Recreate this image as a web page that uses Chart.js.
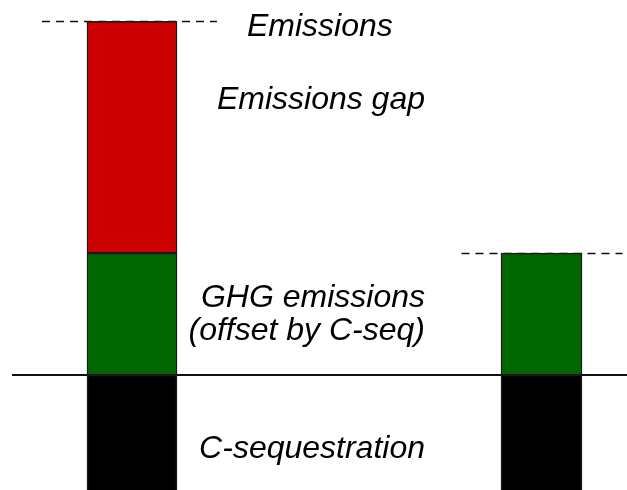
<!DOCTYPE html>
<html>
<head>
<meta charset="utf-8">
<script src="https://cdn.jsdelivr.net/npm/chart.js@4"></script>
<style>
  html, body { margin: 0; padding: 0; background: #fff; }
  #wrap { width: 627px; height: 490px; position: relative; }
</style>
</head>
<body>
<div id="wrap"><canvas id="chartGap"></canvas></div>
<script>
'use strict';

// bars: left = emissions without sequestration counted, right = with it
const categories = ['Emissions', 'Offset'];
const cSequestration = [-4, -4];
const ghgEmissions = [4, 4];
const emissionsGap = [7.6, null];

const labelTexts = {
    emissions: 'Emissions',
    gap: 'Emissions gap',
    ghg1: 'GHG emissions',
    ghg2: '(offset by C-seq)',
    cseq: 'C-sequestration'
};

// keep each bar in its own dataset so the two can have different widths
function onlyAt(arr, i) {
    return arr.map((v, j) => (j === i ? v : null));
}

const barBorder = '#1a1a1a';

const datasets = [
    { label: 'C-sequestration', data: onlyAt(cSequestration, 0), backgroundColor: '#000000', barThickness: 90 },
    { label: 'GHG emissions', data: onlyAt(ghgEmissions, 0), backgroundColor: '#006600', barThickness: 90 },
    { label: 'Emissions gap', data: onlyAt(emissionsGap, 0), backgroundColor: '#cc0000', barThickness: 90 },
    { label: 'C-sequestration', data: onlyAt(cSequestration, 1), backgroundColor: '#000000', barThickness: 81 },
    { label: 'GHG emissions', data: onlyAt(ghgEmissions, 1), backgroundColor: '#006600', barThickness: 81 }
].map(d => Object.assign(d, { borderColor: barBorder, borderWidth: 1.5, borderSkipped: false, clip: false }));

// dashed reference lines + zero line, drawn under the bars
const guideLines = {
    id: 'guideLines',
    beforeDatasetsDraw(chart) {
        const { ctx, scales: { x, y } } = chart;
        ctx.save();
        ctx.strokeStyle = '#111';

        // zero line
        ctx.lineWidth = 2;
        const y0 = Math.round(y.getPixelForValue(0));
        ctx.beginPath();
        ctx.moveTo(12, y0);
        ctx.lineTo(627, y0);
        ctx.stroke();

        // dashed tops
        ctx.lineWidth = 1.5;
        ctx.setLineDash([8, 6]);
        const tops = categories.map((c, i) => (ghgEmissions[i] || 0) + (emissionsGap[i] || 0));
        const spans = [[-90, 85], [-80, 81]];
        tops.forEach((t, i) => {
            const cx = x.getPixelForValue(i);
            const yy = Math.round(y.getPixelForValue(t)) + 0.5;
            ctx.beginPath();
            ctx.moveTo(cx + spans[i][0], yy);
            ctx.lineTo(cx + spans[i][1], yy);
            ctx.stroke();
        });
        ctx.restore();
    },
    afterDatasetsDraw(chart) {
        const { ctx } = chart;
        ctx.save();
        ctx.fillStyle = '#000';
        ctx.font = 'italic 32px "Liberation Sans", Arial, sans-serif';
        ctx.textBaseline = 'alphabetic';
        ctx.textAlign = 'left';
        ctx.fillText(labelTexts.emissions, 247, 36);
        ctx.textAlign = 'right';
        ctx.fillText(labelTexts.gap, 425, 109);
        ctx.fillText(labelTexts.ghg1, 425, 307);
        ctx.fillText(labelTexts.ghg2, 425, 340);
        ctx.fillText(labelTexts.cseq, 425, 458);
        ctx.restore();
    }
};

new Chart(document.getElementById('chartGap'), {
    type: 'bar',
    data: { labels: categories, datasets: datasets },
    options: {
        responsive: true,
        maintainAspectRatio: false,
        animation: false,
        layout: { padding: { left: 132, right: 85.5, top: 0, bottom: 0 } },
        plugins: { legend: { display: false }, tooltip: { enabled: false } },
        scales: {
            x: { stacked: true, offset: false, display: false },
            y: { stacked: true, min: -3.77, max: 12.3, display: false }
        }
    },
    plugins: [guideLines]
});
</script>
</body>
</html>
